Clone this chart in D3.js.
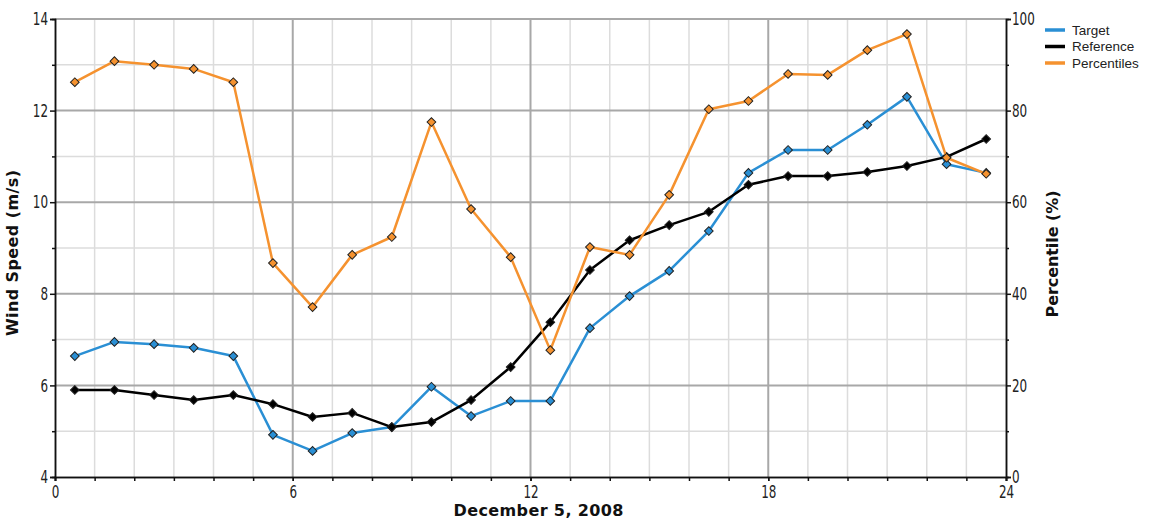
<!DOCTYPE html>
<html>
<head>
<meta charset="utf-8">
<script src="https://cdn.jsdelivr.net/npm/d3@7"></script>
<style>
  body { margin: 0; background: #fff; }
  .tick-lbl { font-family: "Liberation Sans Narrow", "DejaVu Sans Condensed", "Liberation Sans", sans-serif; font-size: 18px; fill: #222; }
  .ttl { font-family: "DejaVu Sans", sans-serif; font-weight: bold; font-size: 16px; fill: #111; }
  .lg { font-family: "Liberation Sans", Arial, sans-serif; font-size: 13.5px; fill: #222; }
</style>
</head>
<body>
<div id="chart"></div>
<script>
// hourly values, Dec 5 2008
const hours = [0.5, 1.5, 2.5, 3.5, 4.5, 5.5, 6.5, 7.5, 8.5, 9.5, 10.5, 11.5,
               12.5, 13.5, 14.5, 15.5, 16.5, 17.5, 18.5, 19.5, 20.5, 21.5, 22.5, 23.5];
const target = [6.64, 6.95, 6.90, 6.82, 6.64, 4.92, 4.57, 4.96, 5.09, 5.97, 5.33, 5.66,
                5.66, 7.25, 7.95, 8.50, 9.37, 10.64, 11.14, 11.14, 11.69, 12.30, 10.83, 10.64];
const reference = [5.90, 5.90, 5.79, 5.68, 5.79, 5.59, 5.31, 5.40, 5.09, 5.20, 5.68, 6.40,
                   7.38, 8.52, 9.17, 9.50, 9.79, 10.38, 10.57, 10.57, 10.66, 10.79, 10.99, 11.38];
const percentiles = [86.2, 90.8, 90.0, 89.1, 86.2, 46.7, 37.1, 48.5, 52.4, 77.5, 58.5, 48.0,
                     27.7, 50.2, 48.5, 61.6, 80.3, 82.1, 88.0, 87.8, 93.2, 96.7, 69.7, 66.2];

const xTicks = [0, 6, 12, 18, 24];
const yTicks = [4, 6, 8, 10, 12, 14];
const pTicks = [0, 20, 40, 60, 80, 100];

const series = [
  { name: 'Target', values: target, axis: 'left', color: '#2a8fd4' },
  { name: 'Reference', values: reference, axis: 'left', color: '#000000' },
  { name: 'Percentiles', values: percentiles, axis: 'right', color: '#f5922f' },
];

const W = 1151, H = 521;
const M = { top: 19, right: 145, bottom: 44, left: 55 };
const innerW = W - M.left - M.right, innerH = H - M.top - M.bottom;

const svg = d3.select('#chart').append('svg').attr('width', W).attr('height', H);
const g = svg.append('g').attr('transform', `translate(${M.left},${M.top})`);

const x = d3.scaleLinear().domain([0, 24]).range([0, innerW]);
const y = d3.scaleLinear().domain([4, 14]).range([innerH, 0]);
const yP = d3.scaleLinear().domain([0, 100]).range([innerH, 0]);

// grid: minor first, major on top
const hourGrid = d3.range(1, 24);
g.append('g').selectAll('line').data(hourGrid.filter(h => h % 6)).join('line')
  .attr('x1', d => x(d)).attr('x2', d => x(d)).attr('y1', 0).attr('y2', innerH)
  .attr('stroke', '#dcdcdc').attr('stroke-width', 1.5);
g.append('g').selectAll('line').data([5, 7, 9, 11, 13]).join('line')
  .attr('x1', 0).attr('x2', innerW).attr('y1', d => y(d)).attr('y2', d => y(d))
  .attr('stroke', '#dcdcdc').attr('stroke-width', 1.5);
g.append('g').selectAll('line').data([6, 12, 18]).join('line')
  .attr('x1', d => x(d)).attr('x2', d => x(d)).attr('y1', 0).attr('y2', innerH)
  .attr('stroke', '#a8a8a8').attr('stroke-width', 2);
g.append('g').selectAll('line').data([6, 8, 10, 12, 14]).join('line')
  .attr('x1', 0).attr('x2', innerW).attr('y1', d => y(d)).attr('y2', d => y(d))
  .attr('stroke', '#a8a8a8').attr('stroke-width', 2);

// axes — labels squeezed to a condensed width like the original
function styleAxis(sel) {
  sel.select('.domain').attr('stroke', '#111').attr('stroke-width', 1.5);
  sel.selectAll('.tick line').attr('stroke', '#111').attr('stroke-width', 1.5);
  sel.selectAll('.tick text').attr('class', 'tick-lbl').attr('font-family', null).attr('font-size', null)
    .each(function () {
      const t = d3.select(this);
      if (t.text()) t.attr('textLength', t.text().length * 7.6).attr('lengthAdjust', 'spacingAndGlyphs');
    });
}

const gyMinor = g.append('g').call(d3.axisLeft(y).tickValues([5, 7, 9, 11, 13]).tickSize(3).tickFormat(''));
styleAxis(gyMinor);
const gy = g.append('g').call(d3.axisLeft(y).tickValues(yTicks).tickSize(5).tickPadding(2).tickFormat(d3.format('d')));
styleAxis(gy);

const gpMinor = g.append('g').attr('transform', `translate(${innerW},0)`)
  .call(d3.axisRight(yP).tickValues([10, 30, 50, 70, 90]).tickSize(3).tickFormat(''));
styleAxis(gpMinor);
const gp = g.append('g').attr('transform', `translate(${innerW},0)`)
  .call(d3.axisRight(yP).tickValues(pTicks).tickSize(5).tickPadding(1).tickFormat(d3.format('d')));
styleAxis(gp);

const gxMinor = g.append('g').attr('transform', `translate(0,${innerH})`)
  .call(d3.axisBottom(x).tickValues(d3.range(0, 25)).tickSize(4).tickFormat(''));
styleAxis(gxMinor);
const gx = g.append('g').attr('transform', `translate(0,${innerH})`)
  .call(d3.axisBottom(x).tickValues(xTicks).tickSize(4).tickPadding(4).tickFormat(d3.format('d')));
styleAxis(gx);

// titles
g.append('text').attr('class', 'ttl')
  .attr('transform', `translate(${-37},${innerH / 2 + 5}) rotate(-90)`)
  .attr('text-anchor', 'middle').attr('textLength', 166).text('Wind Speed (m/s)');
g.append('text').attr('class', 'ttl')
  .attr('transform', `translate(${innerW + 52},${innerH / 2 + 6}) rotate(-90)`)
  .attr('text-anchor', 'middle').attr('textLength', 127).text('Percentile (%)');
g.append('text').attr('class', 'ttl')
  .attr('x', x(12) + 8).attr('y', innerH + 39)
  .attr('text-anchor', 'middle').attr('textLength', 170).text('December 5, 2008');

// series
const marker = d3.symbol().type(d3.symbolSquare).size(38);
series.forEach(s => {
  const sc = s.axis === 'left' ? y : yP;
  const pts = hours.map((h, i) => [h, s.values[i]]);
  g.append('path').datum(pts)
    .attr('fill', 'none').attr('stroke', s.color).attr('stroke-width', 2.5)
    .attr('stroke-linejoin', 'round')
    .attr('d', d3.line().x(d => x(d[0])).y(d => sc(d[1])));
  g.append('g').selectAll('path').data(pts).join('path')
    .attr('d', marker)
    .attr('transform', d => `translate(${x(d[0])},${sc(d[1])}) rotate(45)`)
    .attr('fill', s.color).attr('stroke', '#222').attr('stroke-width', 1);
});

// legend
const lg = svg.append('g').attr('transform', `translate(1045,30)`);
series.forEach((s, i) => {
  const r = lg.append('g').attr('transform', `translate(0,${i * 16.5})`);
  r.append('line').attr('x1', 0).attr('x2', 20).attr('y1', 0).attr('y2', 0)
    .attr('stroke', s.color).attr('stroke-width', 3.5);
  r.append('text').attr('class', 'lg').attr('x', 27).attr('y', 4.5).text(s.name);
});
</script>
</body>
</html>
